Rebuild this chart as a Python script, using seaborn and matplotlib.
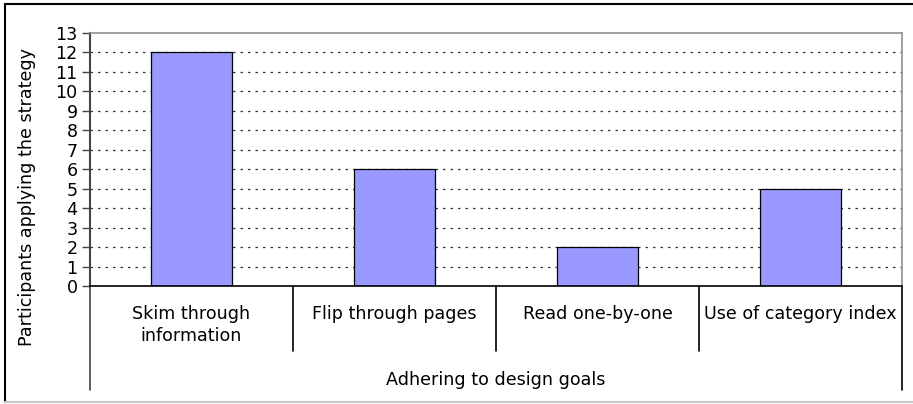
import matplotlib
matplotlib.use("Agg")
import matplotlib.pyplot as plt
import seaborn as sns
import pandas as pd
from matplotlib.lines import Line2D

strategies = ["Skim through\ninformation", "Flip through pages", "Read one-by-one", "Use of category index"]
participants = [12, 6, 2, 5]
group_label = "Adhering to design goals"
y_label = "Participants applying the strategy"
y_ticks = list(range(0, 14))

df = pd.DataFrame({"strategy": strategies, "participants": participants})

sns.set_theme(style="white")
plt.rcParams["font.family"] = ["DejaVu Sans"]
plt.rcParams["text.color"] = "black"
plt.rcParams["xtick.color"] = "black"
plt.rcParams["ytick.color"] = "black"

FS = 12.6
W, H = 913, 404
fig = plt.figure(figsize=(W / 100, H / 100), dpi=100)
ax = fig.add_axes([90 / W, (H - 286) / H, (902 - 90) / W, (286 - 33) / H])

sns.barplot(data=df, x="strategy", y="participants", order=strategies,
            color="#9999ff", edgecolor="black", linewidth=0.9, width=0.4,
            saturation=1, ax=ax)

ax.set_ylim(0, 13)
ax.set_xlim(-0.5, len(strategies) - 0.5)
ax.set_yticks(y_ticks)
ax.set_yticklabels([str(t) for t in y_ticks], fontsize=FS)
ax.tick_params(axis="y", length=6, width=1, color="#444444", pad=3, direction="out", left=True)
ax.tick_params(axis="x", length=0, pad=14, labelsize=FS)
ax.set_xticks(range(len(strategies)))
ax.set_xticklabels(strategies, fontsize=FS, va="top", linespacing=1.25)

# dotted gridlines
for t in y_ticks[1:-1]:
    ax.axhline(t, color="#333333", linewidth=0.9, linestyle=(0, (2, 4)), zorder=0)
ax.set_axisbelow(True)

for s in ["top", "right"]:
    ax.spines[s].set_color("#909090")
    ax.spines[s].set_linewidth(1.2)
ax.spines["left"].set_color("#444444")
ax.spines["left"].set_linewidth(1.5)
ax.spines["bottom"].set_color("black")
ax.spines["bottom"].set_linewidth(1.2)

ax.set_ylabel("")
ax.set_xlabel("")
fig.text(27 / W, 1 - 197 / H, y_label, rotation=90, ha="center", va="center", fontsize=FS)

# category separators below the axis
tr = ax.get_xaxis_transform()
n = len(strategies)
for i in range(n + 1):
    x = i - 0.5
    bottom = -0.41 if i in (0, n) else -0.255
    col = "#444444" if i == 0 else "black"
    ax.add_line(Line2D([x, x], [0, bottom], transform=tr, color=col,
                       linewidth=1.2, clip_on=False))
ax.text((n - 1) / 2, -0.37, group_label, transform=tr, ha="center", va="center",
        fontsize=FS)

# outer chart frame
fig.add_artist(Line2D([5 / W, 5 / W], [1 - 4 / H, 1 - 402 / H], color="black", linewidth=1.5))
fig.add_artist(Line2D([5 / W, 1], [1 - 4 / H, 1 - 4 / H], color="black", linewidth=1.5))
fig.add_artist(Line2D([5 / W, 1], [1 - 402 / H, 1 - 402 / H], color="#c8c8c8", linewidth=1.5))

fig.savefig("out.png", dpi=100)
